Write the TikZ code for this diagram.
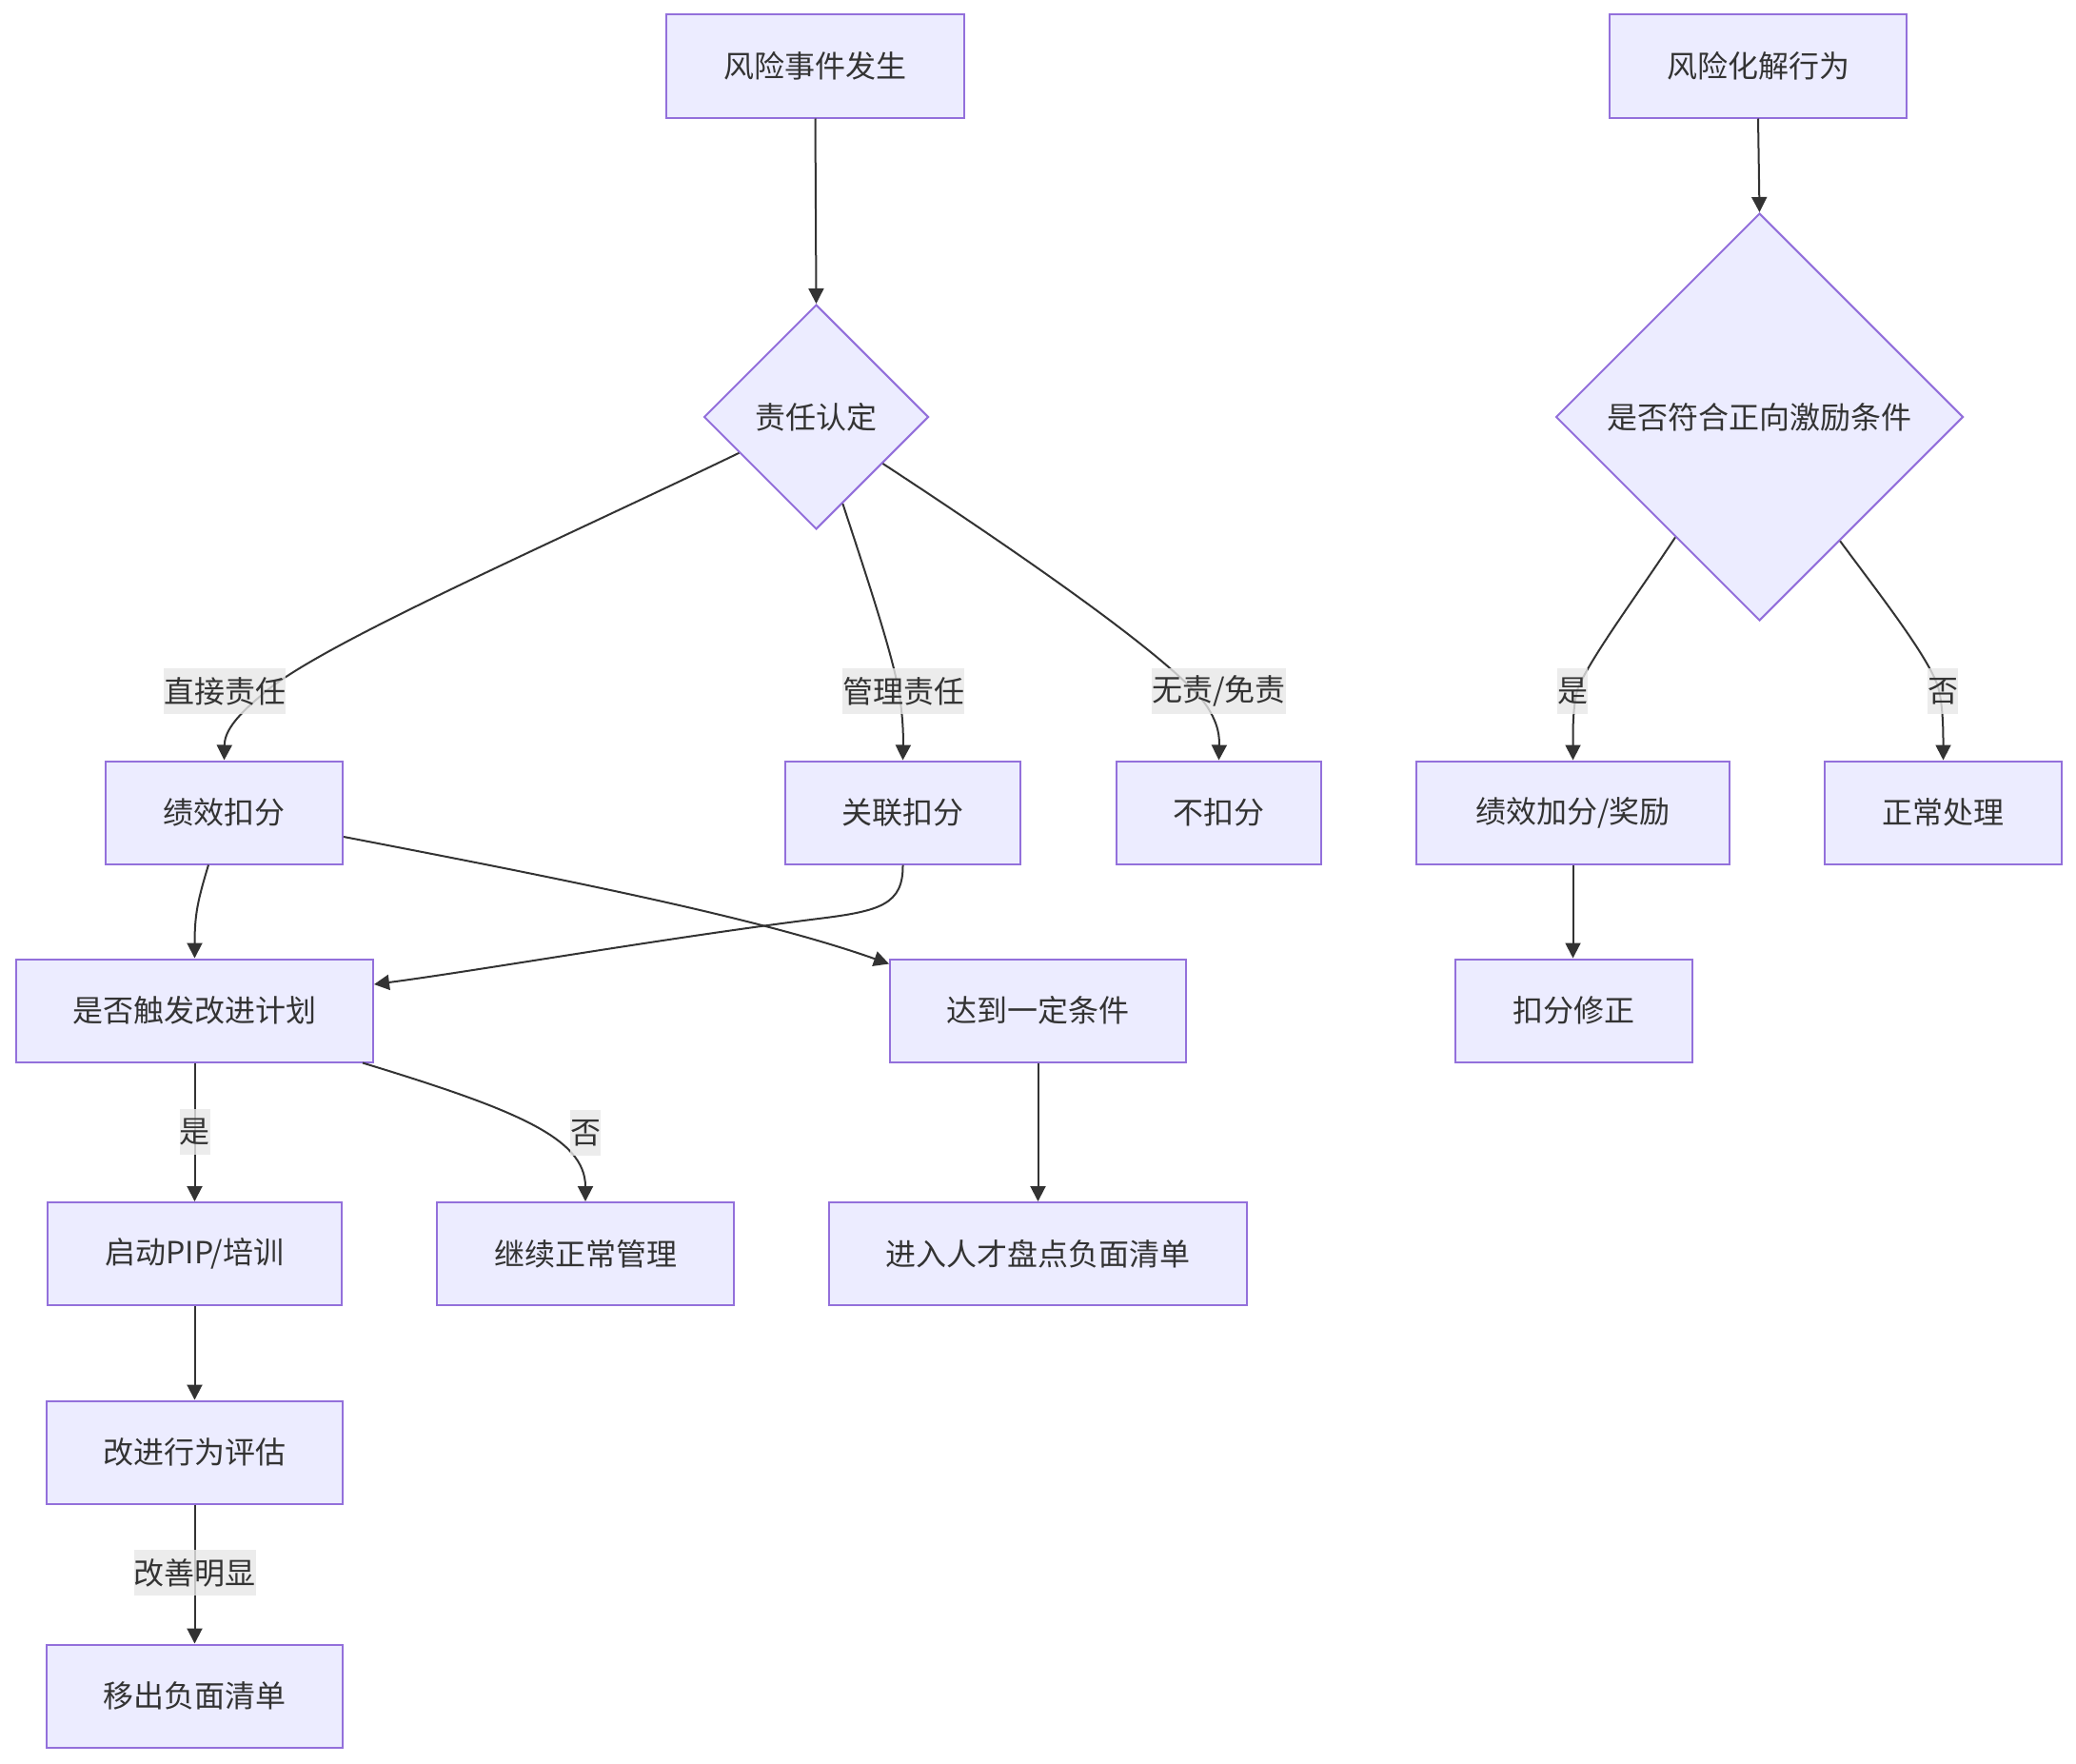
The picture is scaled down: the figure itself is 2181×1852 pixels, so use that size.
\documentclass[tikz,border=0pt]{standalone}
\usepackage{fontspec}
\setmainfont{Noto Sans CJK SC}
\usetikzlibrary{shapes.geometric,arrows.meta}
\definecolor{nodefill}{HTML}{ECECFF}
\definecolor{nodeline}{HTML}{9370DB}
\definecolor{edgecol}{HTML}{333333}
\definecolor{lblfill}{HTML}{E8E8E8}
\tikzset{
  box/.style={draw=nodeline, fill=nodefill, line width=2pt, minimum height=108pt,
    inner sep=0pt, text=edgecol, font=\fontsize{32}{38}\selectfont},
  dia/.style={diamond, aspect=1, draw=nodeline, fill=nodefill, line width=2pt,
    inner sep=0pt, text=edgecol, font=\fontsize{32}{38}\selectfont},
  lbl/.style={fill=lblfill, fill opacity=0.8, text opacity=1, text=edgecol,
    inner sep=0pt, minimum height=48pt, font=\fontsize{32}{38}\selectfont},
  conn/.style={draw=edgecol, line width=2pt, -{Triangle[length=16pt,width=16pt]}}
}
\begin{document}
\begin{tikzpicture}[x=1pt,y=-1pt]
\fill[white] (0,0) rectangle (2181,1852);
\useasboundingbox (0,0) rectangle (2181,1852);

% nodes
\node[box, minimum width=313pt] (a1) at (856.5,69.5) {风险事件发生};
\node[dia, minimum width=236pt, minimum height=236pt] (d1) at (857.5,438) {责任认定};
\node[box, minimum width=312pt] (a2) at (1847,69.5) {风险化解行为};
\node[dia, minimum width=428pt, minimum height=428pt] (d2) at (1848.5,438) {是否符合正向激励条件};

\node[box, minimum width=249pt] (b1) at (235.5,853.5) {绩效扣分};
\node[box, minimum width=247pt] (b2) at (948.5,853.5) {关联扣分};
\node[box, minimum width=215pt] (b3) at (1280.5,853.5) {不扣分};
\node[box, minimum width=329pt] (b4) at (1652.5,853.5) {绩效加分/奖励};
\node[box, minimum width=249pt] (b5) at (2041.5,853.5) {正常处理};

\node[box, minimum width=375pt] (c1) at (204.5,1061.5) {是否触发改进计划};
\node[box, minimum width=311pt] (c2) at (1090.5,1061.5) {达到一定条件};
\node[box, minimum width=249pt] (c3) at (1653.5,1061.5) {扣分修正};

\node[box, minimum width=309pt] (e1) at (204.5,1317) {启动PIP/培训};
\node[box, minimum width=312pt] (e2) at (615,1317) {继续正常管理};
\node[box, minimum width=439pt] (e3) at (1090.5,1317) {进入人才盘点负面清单};

\node[box, minimum width=311pt] (f1) at (204.5,1525.5) {改进行为评估};
\node[box, minimum width=311pt] (g1) at (204.5,1781.5) {移出负面清单};

% connectors
\draw[conn] (a1.south) -- (d1.north);
\draw[conn] (a2.south) -- (d2.north);

\draw[conn] (d1.205) .. controls (560,580) and (330,680) .. (275,730)
  .. controls (245,755) and (236,770) .. (b1.north);
\draw[conn] (d1.287.7) .. controls (912,610) and (935,680) .. (943,720)
  .. controls (949,750) and (949,775) .. (b2.north);
\draw[conn] (d1.325) .. controls (1100,600) and (1240,700) .. (1268,742)
  .. controls (1281,762) and (1281,775) .. (b3.north);

\draw[conn] (d2.235.6) .. controls (1720,625) and (1668,695) .. (1657,725)
  .. controls (1652,745) and (1652.5,770) .. (b4.north);
\draw[conn] (d2.303.7) .. controls (1975,625) and (2030,695) .. (2037,725)
  .. controls (2041.5,745) and (2041.5,770) .. (b5.north);

\draw[conn] (b4.south) -- (b4.south |- c3.north);

\draw[conn] ([xshift=-16.5pt]b1.south) .. controls (208,945) and (204.5,960) .. (c1.north);
\draw[conn] (b2.south) .. controls (949,950) and (925,957) .. (860,965)
  .. controls (700,985) and (500,1020) .. ([yshift=27.5pt]c1.east);
\draw[conn] ([yshift=-25.5pt]b1.east) .. controls (600,925) and (800,965) .. ([yshift=-6pt]c2.north west);

\draw[conn] (c1.south) -- (e1.north);
\draw[conn] ([xshift=-12pt]c1.south east) .. controls (540,1165) and (615,1195) .. (e2.north);
\draw[conn] (c2.south) -- (e3.north);
\draw[conn] (e1.south) -- (f1.north);
\draw[conn] (f1.south) -- (g1.north);

% edge labels
\node[lbl] (l1) at (236,726) {直接责任};
\node[lbl] (l2) at (949,726) {管理责任};
\node[lbl] (l3) at (1280.5,725.5) {无责/免责};
\node[lbl] (l4) at (1652,726) {是};
\node[lbl] (l5) at (2041,726) {否};
\node[lbl] (l6) at (204.5,1189) {是};
\node[lbl] (l7) at (615,1190) {否};
\node[lbl] (l8) at (204.5,1652) {改善明显};
\end{tikzpicture}
\end{document}
